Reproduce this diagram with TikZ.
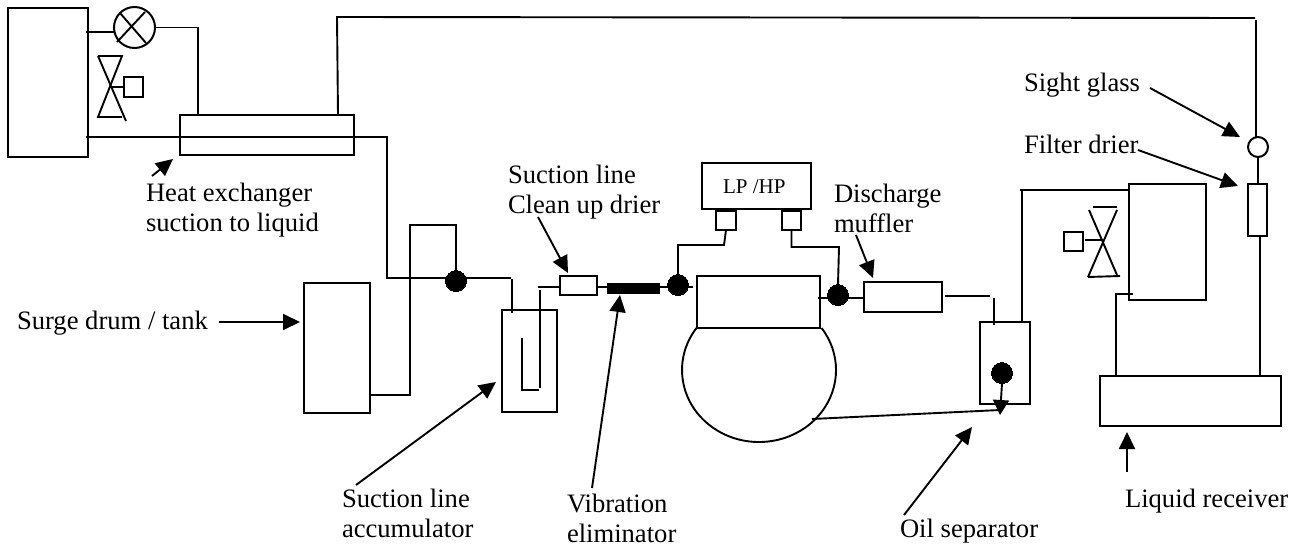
\documentclass[tikz,border=0pt]{standalone}
\usepackage{fontspec}
\setmainfont{Liberation Serif}
\usetikzlibrary{arrows.meta}
\tikzset{
  pipe/.style={line width=1.9pt},
  pbox/.style={draw,line width=2pt,fill=white,rectangle,inner sep=0pt,outer sep=0pt},
  ball/.style={circle,fill=black,draw=black,line width=0pt,inner sep=0pt,outer sep=0pt,minimum size=21pt},
  ring/.style={circle,draw,line width=2pt,fill=white,inner sep=0pt,outer sep=0pt},
  lab/.style={anchor=base west,align=left,inner sep=0pt,outer sep=0pt,font=\fontsize{26.6}{30}\selectfont},
  call/.style={line width=1.9pt,-{Triangle[length=17pt,width=16pt]}},
  valve/.style={line width=1.9pt},
}
\newcommand{\bx}[5]{%
  \pgfmathsetmacro\bw{#4-#2}\pgfmathsetmacro\bh{#5-#3}%
  \node[pbox,minimum width=\bw pt,minimum height=\bh pt] (#1) at ({(#2+#4)/2},{(#3+#5)/2}) {};}
\begin{document}
\begin{tikzpicture}[x=1pt,y=-1pt]
\useasboundingbox (0,0) rectangle (1298,546);
% named joints
\foreach \n/\x/\y in {
 e1/86/32, hxa/198/115, e2/86/137, p1/387/137, p2/387/278, p3/511/278,
 p4/410/225, p5/370/395, p6/512/279, p7/512/313,
 ua/522/338, ub/522/390, uc/539/390, ud/540/388, ue/540/290, uf/538/287,
 p8/724/245, p9/839/247, c1/693/287, c2/818/298, m1/945/296, m2/990/296, m3/994/298, m4/994/325,
 o1/1022/322, o2/1020/190, o3/1129/190,
 r1/1116/376, r2/1133/294, r3/1260/376, r4/1260/236, t1/338/115, t2/337/17, t3/1255/18, t4/1256/20, t5/1256/137,
 f1/1258/157, f2/1258/184,
 dome1/696.5/328, d2/812/419, d3/1000/410, tip/1000/415,
 ma/856/235, mb/873/278, sa/538/217, sb/568/273, va/592/488, vb/620/295,
 aa/356/485, ab/496/382, oa/904/515, ob/972/427, la/1127/472, lb/1127/432,
 ga/1150/88, gb/1240/137, fa/1138/150, fb/1238/186, ha/152/176, hb/173/159, da/219/322, db/300/322,
 x1/117/42, x2/145/12, x3/120/13, x4/146/43
 }{\coordinate (\n) at (\x,\y);}
% compressor dome
\draw[pipe] (dome1) arc[start angle=144.3,end angle=395.7,x radius=77pt,y radius=72pt];
% boxes
\bx{evap}{8}{8}{88}{157}
\node[ring,minimum size=41pt] (txv) at (134.5,27.5) {};
\bx{hx}{180}{115}{354}{155}
\bx{surge}{304}{283}{370}{413}
\bx{acc}{502}{310}{557}{412}
\bx{drier}{560}{276}{597}{295}
\node[rectangle,fill=black,inner sep=0pt,outer sep=0pt,minimum width=53pt,minimum height=11pt] (vib) at (633.5,288.5) {};
\bx{comp}{697}{276}{820}{328}
\bx{gauge}{702}{163}{811}{209}
\bx{s1}{716}{211}{736}{230}
\bx{s2}{782}{211}{801}{230}
\bx{muff}{864}{282}{942}{312}
\bx{oil}{980}{322}{1030}{404}
\bx{cond}{1129}{184}{1206}{300}
\bx{recv}{1100}{376}{1281}{426}
\node[ring,minimum size=20pt] (sight) at (1258,147) {};
\bx{filt}{1248}{184}{1267}{236}
\bx{vbox1}{124}{77}{143}{97}
\bx{vbox2}{1064}{232}{1083}{251}
% balls
\node[ball] (b1) at (456,281) {};
\node[ball] (b2) at (678,285) {};
\node[ball] (b3) at (838,295) {};
\node[ball] (b4) at (1002,373) {};
% TXV cross
\draw[pipe] (x1) -- (x2) (x3) -- (x4);
% pipes
\draw[pipe] (e1) -- (e1 -| txv.west);
\draw[pipe] (txv.east) -| (hxa);
\draw[pipe] (e2) -- (p1) -- (p2) -- (p3);
\draw[pipe] (b1.north) |- (p4) |- (p5);
\draw[pipe] (p6) -- (p7);
\draw[pipe] (ua) -- (ub) -- (uc);
\draw[pipe] (ud) -- (ue);
\draw[pipe] (uf) -- (uf -| drier.west);
\draw[pipe] (uf -| drier.east) -- (uf -| vib.west);
\draw[pipe] (uf -| vib.east) -- (c1);
\draw[pipe] (b2.north) |- (p8) -- (s1.south);
\draw[pipe] (s2.south) |- (p9) -- (b3.north);
\draw[pipe] (c2) -- (c2 -| muff.west);
\draw[pipe] (m1) -- (m2);
\draw[pipe] (m3) -- (m4);
\draw[pipe] (o1) -- (o1 |- o2);
\draw[pipe] (o2) -- (o3);
\draw[pipe] (r1) |- (r2);
\draw[pipe] (r3) -- (r4);
\draw[pipe] (t1) -- (t2) -- (t3);
\draw[pipe] (t4) -- (t5);
\draw[pipe] (f1) -- (f2);
\draw[pipe] (d2) -- (d3);
\draw[line width=1.9pt,-{Triangle[length=15pt,width=16pt]}] (b4.south) -- (tip);
% left valve
\foreach \n/\x/\y in {la1/98/56, la2/122/56, la3/98/117, la4/122/117, la5/126/121, la6/110/87,
  ra1/1093/207, ra2/1117/207, ra3/1089/210, ra4/1117/275, ra5/1117/210, ra6/1088/277, ra7/1120/276, ra8/1085/240, ra9/1103/240}
  {\coordinate (\n) at (\x,\y);}
\draw[valve] (la1) -- (la2) -- (la3) -- (la4);
\draw[valve] (la1) -- (la5);
\draw[valve] (la6) -- (vbox1.west);
% right valve
\draw[valve] (ra1) -- (ra2);
\draw[valve] (ra3) -- (ra4);
\draw[valve] (ra5) -- (ra6);
\draw[valve] (ra6) -- (ra7);
\draw[valve] (ra8) -- (ra9);
% labels
\node[lab] (lhx) at (146,231) {Heat exchanger\\suction to liquid};
\node[lab] (lsurge) at (17,329) {Surge drum / tank};
\node[lab] (lclean) at (508,213) {Suction line\\Clean up drier};
\node[anchor=base west,inner sep=0pt,outer sep=0pt,font=\fontsize{21}{25}\selectfont] (lgauge) at (723,193) {LP /HP};
\node[lab] (ldis) at (834,232) {Discharge\\muffler};
\node[lab] (lacc) at (342,537) {Suction line\\accumulator};
\node[lab] (lvib) at (567,542) {Vibration\\eliminator};
\node[lab] (loil) at (900,537) {Oil separator};
\node[lab] (lrecv) at (1125,507) {Liquid receiver};
\node[lab] (lsight) at (1024,91) {Sight glass};
\node[lab] (lfilt) at (1024,153) {Filter drier};
% callouts
\draw[call] (ha) -- (hb);
\draw[call] (da) -- (db);
\draw[call] (sa) -- (sb);
\draw[call] (va) -- (vb);
\draw[call] (aa) -- (ab);
\draw[call] (ma) -- (mb);
\draw[call] (oa) -- (ob);
\draw[call] (la) -- (lb);
\draw[call] (ga) -- (gb);
\draw[call] (fa) -- (fb);
\end{tikzpicture}
\end{document}
